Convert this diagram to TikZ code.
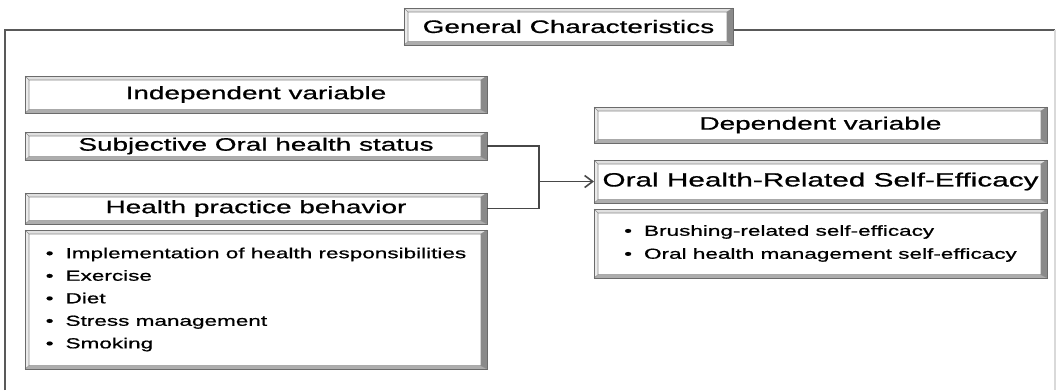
\documentclass[tikz,border=0pt]{standalone}
\usepackage{fontspec}
\setmainfont[FakeStretch=1.55, FakeBold=0.8]{Liberation Sans}
\usetikzlibrary{arrows.meta}

\newcommand{\bevel}[1]{%
  \coordinate (a) at ([shift={(3pt,-3pt)}]#1.north west);
  \coordinate (b) at ([shift={(-4.5pt,-3pt)}]#1.north east);
  \coordinate (c) at ([shift={(-4.5pt,2.5pt)}]#1.south east);
  \coordinate (d) at ([shift={(3pt,2.5pt)}]#1.south west);
  \fill[black!12] (#1.north west) -- (#1.north east) -- (b) -- (a) -- cycle;
  \fill[black!46] (#1.north east) -- (#1.south east) -- (c) -- (b) -- cycle;
  \fill[black!32] (#1.south east) -- (#1.south west) -- (d) -- (c) -- cycle;
  \fill[black!8] (#1.south west) -- (#1.north west) -- (a) -- (d) -- cycle;
  \draw[black!45, line width=0.4pt] (#1.north west) -- (a) (#1.north east) -- (b)
    (#1.south east) -- (c) (#1.south west) -- (d) (a) rectangle (c);
  \draw[black!58, line width=0.5pt] (#1.north west) rectangle (#1.south east);
}

\begin{document}
\begin{tikzpicture}[x=0.75pt, y=-0.75pt, >={Straight Barb[length=6pt,width=9pt]},
  vbox/.style={draw=black!56, fill=white, outer sep=0pt, inner sep=0pt, anchor=north west, font=\fontsize{13.5}{16}\selectfont},
  lbox/.style={vbox, align=left},
  link/.style={draw=black!72, line width=1.2pt}]
\useasboundingbox (0,0) rectangle (1060,390);
\draw[black!65, line width=1.1pt] (5,390) -- (5,30) -- (1055,30);
\draw[black!15, line width=0.8pt] (1055,30) -- (1055,390);

\node[vbox, minimum width=246.75pt, minimum height=27.75pt] (gen) at (404,8) {General Characteristics};
\node[vbox, minimum width=346.5pt, minimum height=27.75pt] (ind) at (25,76) {Independent variable};
\node[vbox, minimum width=346.5pt, minimum height=21pt] (subj) at (25,132) {Subjective Oral health status};
\node[vbox, minimum width=346.5pt, minimum height=23.25pt] (hpb) at (25,193) {Health practice behavior};
\node[lbox, minimum width=346.5pt, minimum height=104.25pt, font=\fontsize{10.9}{16.9}\selectfont] (hlist) at (25,230)
  {•\hspace{9pt}Implementation of health responsibilities\\ •\hspace{9pt}Exercise\\ •\hspace{9pt}Diet\\
   •\hspace{9pt}Stress management\\ •\hspace{9pt}Smoking};
\node[vbox, minimum width=339.75pt, minimum height=27pt] (dep) at (594,107) {Dependent variable};
\node[vbox, minimum width=339.75pt, minimum height=32.25pt, font=\fontsize{14.4}{17}\selectfont] (ohse) at (594,160) {Oral Health-Related Self-Efficacy};
\node[lbox, minimum width=339.75pt, minimum height=51.75pt, font=\fontsize{10.9}{17.25}\selectfont] (olist) at (594,209)
  {•\hspace{9pt}Brushing-related self-efficacy\\ •\hspace{9pt}Oral health management self-efficacy};

\foreach \n in {gen,ind,subj,hpb,hlist,dep,ohse,olist} \bevel{\n};

\coordinate (j) at (539,181.5);
\draw[link] (subj.east) -| (j) |- (hpb.east);
\draw[link,->] (j) -- (ohse.west);
\end{tikzpicture}
\end{document}
